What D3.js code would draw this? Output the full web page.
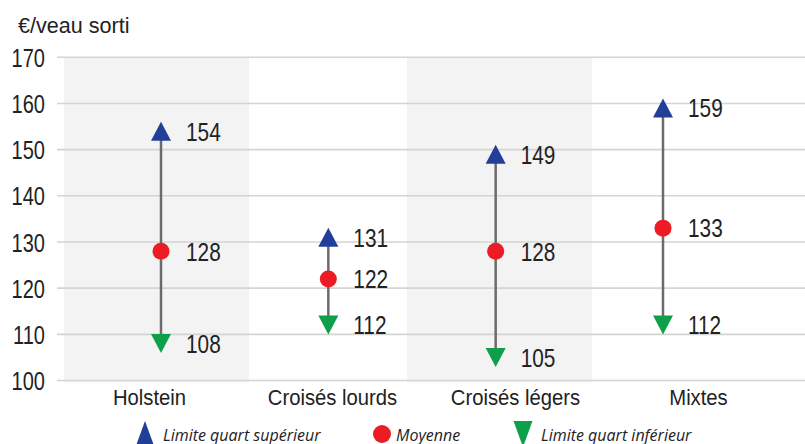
<!DOCTYPE html>
<html><head><meta charset="utf-8">
<script src="https://cdn.jsdelivr.net/npm/d3@7"></script>
<style>
html,body{margin:0;padding:0;background:#fff;}
svg{display:block;}
</style></head>
<body>
<svg id="chart" width="805" height="444"></svg>
<script>
const categories = ["Holstein", "Croisés lourds", "Croisés légers", "Mixtes"];
const upper = [154, 131, 149, 159];
const mean = [128, 122, 128, 133];
const lower = [108, 112, 105, 112];
const yTicks = [100, 110, 120, 130, 140, 150, 160, 170];
const shaded = ["Holstein", "Croisés légers"];
const unitLabel = "€/veau sorti";
const legendLabels = ["Limite quart supérieur", "Moyenne", "Limite quart inférieur"];

const colors = {up: "#213f99", mean: "#ed1c24", low: "#0e9f4b", stem: "#6b6b6b", grid: "#d4d4d4", band: "#f3f3f3", text: "#222"};
const fontMain = "'Liberation Sans',Arial,sans-serif";

function condense(sel, f) {
  sel.each(function() {
    const w = this.getComputedTextLength();
    d3.select(this).attr("textLength", w * f).attr("lengthAdjust", "spacingAndGlyphs");
  });
}

const svg = d3.select("#chart");
const y = d3.scaleLinear().domain([100, 170]).range([380.5, 57.3]);
const xMark = d3.scalePoint().domain(categories).range([161, 663]);
const xLabel = d3.scaleBand().domain(categories).range([58, 790]);
const xShade = d3.scaleBand().domain(categories).range([64, 750]);

// shaded bands
svg.append("g").selectAll("rect").data(shaded).join("rect")
  .attr("x", d => xShade(d)).attr("width", xShade.step() * 1.079)
  .attr("y", y(170)).attr("height", y(100) - y(170) + 2)
  .attr("fill", colors.band);

// gridlines + y axis
const yAxis = d3.axisLeft(y).tickValues(yTicks).tickSize(0).tickPadding(12);
const gy = svg.append("g").attr("transform", "translate(57,0)").call(yAxis);
gy.select(".domain").remove();
gy.selectAll("text").attr("font-family", fontMain).attr("font-size", 26).attr("fill", colors.text).attr("dy", "0.35em");
condense(gy.selectAll("text"), 0.77);
svg.append("g").selectAll("line").data(yTicks).join("line")
  .attr("x1", 57).attr("x2", 805).attr("y1", d => y(d)).attr("y2", d => y(d))
  .attr("stroke", colors.grid).attr("stroke-width", 1.6);

// unit label
svg.append("text").attr("x", 18).attr("y", 33).text(unitLabel)
  .attr("font-family", fontMain).attr("font-size", 22).attr("fill", colors.text)
  .call(condense, 0.98);

// x axis labels
const xAxis = d3.axisBottom(xLabel).tickSize(0).tickPadding(0);
const gx = svg.append("g").attr("transform", "translate(0,389)").call(xAxis);
gx.select(".domain").remove();
gx.selectAll("text").attr("font-family", fontMain).attr("font-size", 22).attr("fill", colors.text).attr("dy", "0.71em");
condense(gx.selectAll("text"), 0.92);

const data = categories.map((c, i) => ({c, up: upper[i], m: mean[i], lo: lower[i]}));
const tri = (w, h, dir) => {
  const p = d3.path();
  if (dir > 0) { p.moveTo(0, -h / 2); p.lineTo(w / 2, h / 2); p.lineTo(-w / 2, h / 2); }
  else { p.moveTo(0, h / 2); p.lineTo(w / 2, -h / 2); p.lineTo(-w / 2, -h / 2); }
  p.closePath(); return p.toString();
};

const g = svg.append("g").selectAll("g").data(data).join("g");
g.append("line").attr("x1", d => xMark(d.c)).attr("x2", d => xMark(d.c))
  .attr("y1", d => y(d.up)).attr("y2", d => y(d.lo))
  .attr("stroke", colors.stem).attr("stroke-width", 2.5);
g.append("path").attr("d", tri(20, 19, 1))
  .attr("transform", d => `translate(${xMark(d.c)},${y(d.up)})`).attr("fill", colors.up);
g.append("path").attr("d", tri(20, 19, -1))
  .attr("transform", d => `translate(${xMark(d.c)},${y(d.lo)})`).attr("fill", colors.low);
g.append("circle").attr("cx", d => xMark(d.c)).attr("cy", d => y(d.m)).attr("r", 8.5).attr("fill", colors.mean);

const valueLabels = [];
data.forEach(d => { valueLabels.push({c: d.c, v: d.up}, {c: d.c, v: d.m}, {c: d.c, v: d.lo}); });
const vl = svg.append("g").selectAll("text").data(valueLabels).join("text")
  .attr("x", d => xMark(d.c) + 25).attr("y", d => y(d.v)).attr("dy", "0.36em")
  .text(d => d.v).attr("font-family", fontMain).attr("font-size", 26).attr("fill", colors.text);
condense(vl, 0.8);

// legend
const lg = svg.append("g").selectAll("g").data(legendLabels).join("g")
  .attr("transform", (d, i) => `translate(${[145, 382, 523][i]},434)`);
lg.each(function(d, i) {
  const s = d3.select(this);
  if (i === 0) s.append("path").attr("d", tri(19, 26, 1)).attr("fill", colors.up);
  else if (i === 1) s.append("circle").attr("r", 9).attr("fill", colors.mean);
  else s.append("path").attr("d", tri(19, 26, -1)).attr("fill", colors.low);
  s.append("text").attr("x", [18, 14, 18][i]).attr("y", 7).text(d)
    .attr("font-family", "'Open Sans','Liberation Sans',sans-serif").attr("font-style", "italic")
    .attr("font-size", 16).attr("fill", colors.text);
});
</script>
</body></html>
